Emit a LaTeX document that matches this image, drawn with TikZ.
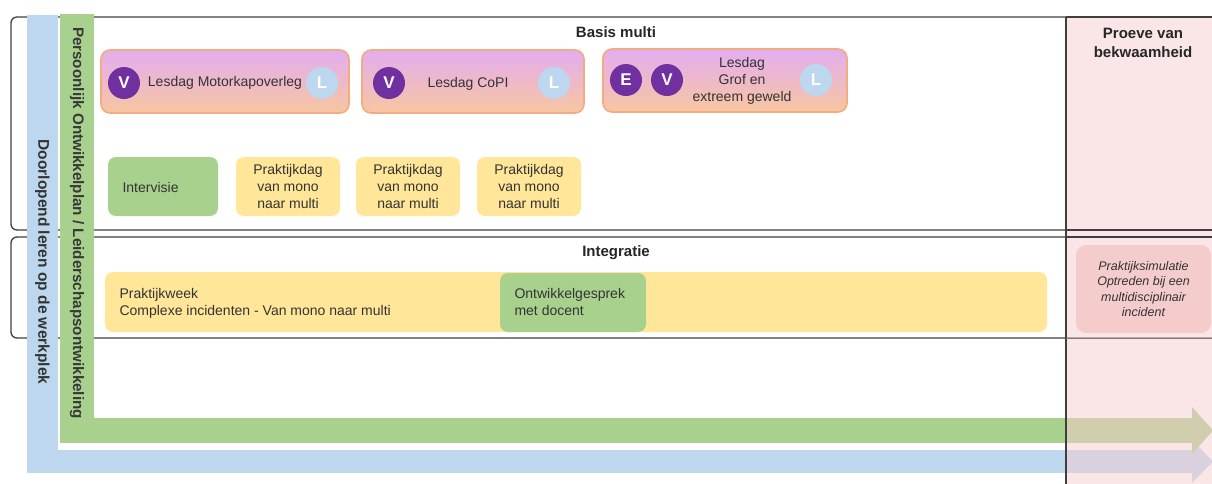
\documentclass[tikz,border=0pt]{standalone}
\usepackage{fontspec}
\setmainfont{Liberation Sans}
\definecolor{bandblue}{HTML}{BDD7EE}
\definecolor{bandgreen}{HTML}{A9D18E}
\definecolor{boxyellow}{HTML}{FFE699}
\definecolor{boxgreen}{HTML}{A9D18E}
\definecolor{simpink}{HTML}{F5CCCC}
\definecolor{colpink}{HTML}{F7CDD1}
\definecolor{lestop}{HTML}{E3ADF0}
\definecolor{lesbot}{HTML}{F8C6A0}
\definecolor{lesborder}{HTML}{F2AC80}
\definecolor{vpurple}{HTML}{7030A0}
\definecolor{lblue}{HTML}{BDD7EE}
\definecolor{txt}{HTML}{333333}
\definecolor{frame}{HTML}{3F3F3F}
\begin{document}
\begin{tikzpicture}[x=1pt,y=-1pt,
  every node/.style={font=\fontsize{14}{17}\selectfont, text=txt},
  frameline/.style={draw=frame, line width=1.3pt},
  lesbox/.style={rounded corners=9pt, draw=lesborder, line width=1.6pt, top color=lestop, bottom color=lesbot, inner sep=0pt, minimum height=63pt},
  vcirc/.style={circle, fill=vpurple, minimum size=32pt, inner sep=0pt, text=white, font=\fontsize{17}{20}\selectfont\bfseries},
  lcirc/.style={circle, fill=lblue, minimum size=32pt, inner sep=0pt, text=white, font=\fontsize{17}{20}\selectfont\bfseries},
  pbox/.style={rounded corners=8pt, fill=boxyellow, inner sep=0pt, minimum width=104pt, minimum height=59pt},
  gbox/.style={rounded corners=8pt, fill=boxgreen, inner sep=0pt},
  title/.style={font=\fontsize{15}{18.5}\selectfont\bfseries, text=black!85},
  bandtext/.style={rotate=-90, font=\fontsize{15.2}{18}\selectfont\bfseries},
]
\useasboundingbox (0,0) rectangle (1212,483);
\fill[white] (0,0) rectangle (1212,483);
\begin{scope}
\clip (0,0) rectangle (1212,483);
% frames
\draw[frameline, rounded corners=6pt] (11,17) rectangle (1240,230);
\draw[frameline, rounded corners=6pt] (11,237) rectangle (1240,338);
% blue band
\fill[bandblue] (27,15) rectangle (58,473);
\fill[bandblue] (27,450) rectangle (1192,473);
\fill[bandblue] (1192,440) -- (1213,461.5) -- (1192,483) -- cycle;
% green band
\fill[bandgreen] (60,14) rectangle (94,443);
\fill[bandgreen] (60,418) rectangle (1192,443);
\fill[bandgreen] (1192,407) -- (1213,430.5) -- (1192,454) -- cycle;
% proeve column overlay
\fill[colpink, fill opacity=0.5] (1066,17) rectangle (1220,490);
\draw[frameline] (1066,17) -- (1066,490);
\draw[frameline] (1066,17) -- (1220,17);
\draw[frameline] (1066,230) -- (1220,230);
\draw[frameline] (1066,237) -- (1220,237);
\draw[draw=frame!70, line width=1pt] (1066,338) -- (1220,338);
\end{scope}

\node[bandtext, text=black!80, font=\fontsize{15.5}{18}\selectfont\bfseries] (doorlopend) at (42.5,262) {Doorlopend leren op de werkplek};
\node[bandtext, text=black!78] (pop) at (77,223) {Persoonlijk Ontwikkelplan / Leiderschapsontwikkeling};

% Basis multi
\node[title] (basis) at (616,32) {Basis multi};

\node[lesbox, minimum width=248pt] (les1) at (225,81.5) {};
\node (les1t) at (225,83) {Lesdag Motorkapoverleg};
\node[vcirc] (les1v) at (124,83) {V};
\node[lcirc] (les1l) at (322,83) {L};

\node[lesbox, minimum width=222pt] (les2) at (473,81.5) {};
\node (les2t) at (468,84) {Lesdag CoPI};
\node[vcirc] (les2v) at (389,83) {V};
\node[lcirc] (les2l) at (554,83) {L};

\node[lesbox, minimum width=244pt] (les3) at (725,80.5) {};
\node[align=center, font=\fontsize{14}{17}\selectfont] (les3t) at (742,81) {Lesdag\\Grof en\\extreem geweld};
\node[vcirc] (les3e) at (626,80) {E};
\node[vcirc] (les3v) at (667,80) {V};
\node[lcirc] (les3l) at (816,80) {L};

\node[gbox, minimum width=110pt, minimum height=59pt] (intervisie) at (163,186.5) {};
\node[anchor=west] (intervisiet) at (119,187) {Intervisie};

\node[pbox, align=center] (prak1) at (288,186.5) {Praktijkdag\\van mono\\naar multi};
\node[pbox, align=center] (prak2) at (408,186.5) {Praktijkdag\\van mono\\naar multi};
\node[pbox, align=center] (prak3) at (529,186.5) {Praktijkdag\\van mono\\naar multi};

% Integratie
\node[title] (integratie) at (616,253) {Integratie};
\node[rounded corners=8pt, fill=boxyellow, minimum width=942pt, minimum height=60pt, inner sep=0pt] (week) at (576,302) {};
\node[anchor=west, align=left] (weekt) at (116,303) {Praktijkweek\\Complexe incidenten - Van mono naar multi};
\node[gbox, minimum width=146pt, minimum height=59pt] (gesprek) at (573,302.5) {};
\node[anchor=west, align=left] (gesprekt) at (511,302) {Ontwikkelgesprek\\met docent};

% Proeve
\node[title, align=center] (proeve) at (1143,43) {Proeve van\\bekwaamheid};
\node[rounded corners=10pt, fill=simpink, minimum width=135pt, minimum height=88pt, inner sep=0pt] (sim) at (1143.5,289) {};
\node[align=center, font=\fontsize{12.5}{15.5}\selectfont\itshape] (simt) at (1143.5,289) {Praktijksimulatie\\Optreden bij een\\multidisciplinair\\incident};
\end{tikzpicture}
\end{document}
